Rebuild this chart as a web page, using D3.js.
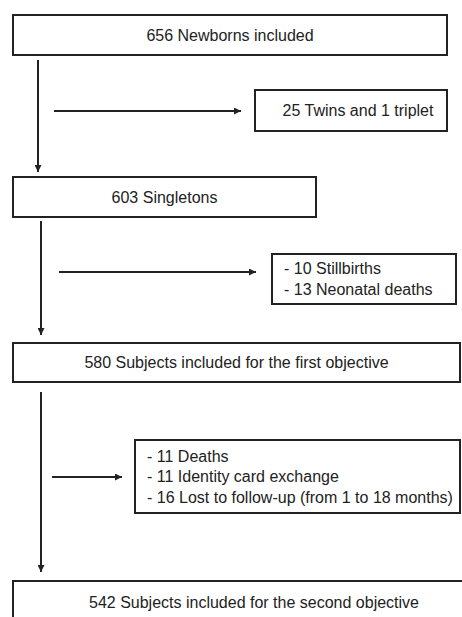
<html>
<head>
<script src="https://d3js.org/d3.v7.min.js"></script>
<style>
body { margin: 0; background: #fff; }
svg { display: block; }
text { font-family: 'Liberation Sans', Arial, sans-serif; font-size: 16px; fill: #222; }
</style>
</head>
<body>
<svg width="462" height="617"></svg>
<script>
// flowchart content
var mainSteps = ["656 Newborns included", "603 Singletons",
  "580 Subjects included for the first objective",
  "542 Subjects included for the second objective"];
var exclusions = [
  ["25 Twins and 1 triplet"],
  ["- 10 Stillbirths", "- 13 Neonatal deaths"],
  ["- 11 Deaths", "- 11 Identity card exchange", "- 16 Lost to follow-up (from 1 to 18 months)"]
];

// layout (boxes: x, y, w, h)
var mainBox = [[13, 15, 434, 40], [13, 177, 303, 40], [13, 343, 447, 39], [13, 581, 460, 50]];
var exclBox = [[255, 90, 192, 41], [272, 254, 184, 50], [135, 440, 325, 73]];
var downLine = [[38, 60, 172], [41, 221, 335], [41, 392, 572]];
var sideArrow = [[54, 241, 111], [59, 256, 272], [52, 122, 477]];

var svg = d3.select("svg");
var ink = "#222";

svg.append("defs").append("marker")
  .attr("id", "head").attr("viewBox", "0 0 10 10")
  .attr("refX", 10).attr("refY", 5)
  .attr("markerWidth", 8).attr("markerHeight", 7)
  .attr("markerUnits", "userSpaceOnUse")
  .attr("orient", "auto")
  .append("path").attr("d", "M0,0L10,5L0,10Z").attr("fill", ink);

// main boxes
var mains = svg.selectAll("g.main").data(mainSteps).enter().append("g").attr("class", "main");
mains.append("rect")
  .attr("x", (d, i) => mainBox[i][0]).attr("y", (d, i) => mainBox[i][1])
  .attr("width", (d, i) => mainBox[i][2]).attr("height", (d, i) => mainBox[i][3])
  .attr("fill", "#fff").attr("stroke", ink).attr("stroke-width", 2);
mains.append("text")
  .attr("x", (d, i) => i == 3 ? 254 : mainBox[i][0] + mainBox[i][2] / 2)
  .attr("y", (d, i) => i == 3 ? 602 : mainBox[i][1] + mainBox[i][3] / 2)
  .attr("dy", "0.35em").attr("text-anchor", "middle")
  .text(d => d);

// exclusion boxes
var excl = svg.selectAll("g.excl").data(exclusions).enter().append("g").attr("class", "excl");
excl.append("rect")
  .attr("x", (d, i) => exclBox[i][0]).attr("y", (d, i) => exclBox[i][1])
  .attr("width", (d, i) => exclBox[i][2]).attr("height", (d, i) => exclBox[i][3])
  .attr("fill", "#fff").attr("stroke", ink).attr("stroke-width", 2);
excl.each(function (lines, i) {
  var b = exclBox[i];
  var single = lines.length == 1;
  var top = b[1] + b[3] / 2 - (lines.length - 1) * 10.3;
  d3.select(this).selectAll("text").data(lines).enter().append("text")
    .attr("x", single ? b[0] + b[2] / 2 + 7 : b[0] + 12)
    .attr("y", (l, j) => top + j * 20.6)
    .attr("dy", "0.35em")
    .attr("text-anchor", single ? "middle" : "start")
    .text(l => l);
});

// connectors
svg.selectAll("line.down").data(downLine).enter().append("line")
  .attr("class", "down")
  .attr("x1", d => d[0]).attr("x2", d => d[0])
  .attr("y1", d => d[1]).attr("y2", d => d[2])
  .attr("stroke", ink).attr("stroke-width", 2)
  .attr("marker-end", (d, i) => "url(#head)");
svg.selectAll("line.side").data(sideArrow).enter().append("line")
  .attr("class", "side")
  .attr("x1", d => d[0]).attr("x2", d => d[1])
  .attr("y1", d => d[2]).attr("y2", d => d[2])
  .attr("stroke", ink).attr("stroke-width", 2)
  .attr("marker-end", "url(#head)");
</script>
</body>
</html>
